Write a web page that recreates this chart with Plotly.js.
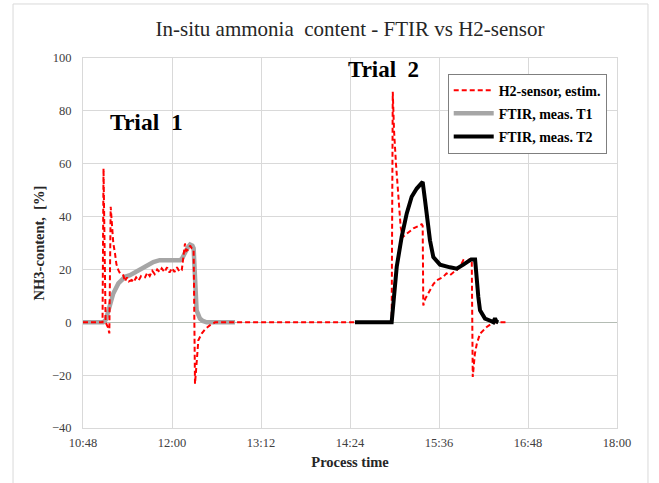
<!DOCTYPE html>
<html>
<head>
<meta charset="utf-8">
<script src="https://cdn.plot.ly/plotly-3.0.1.min.js"></script>
<style>
  html, body { margin: 0; padding: 0; background: #fff; }
  #chart { width: 659px; height: 483px; }
</style>
</head>
<body>
<div id="chart"></div>
<script>
var DAY = "2024-01-01 ";

// H2-sensor, estimated NH3 content [%]
var h2Time = ["10:48:00","11:03:48","11:04:36","11:05:36","11:06:18","11:08:18","11:09:18","11:10:24","11:11:30","11:12:30",
  "11:13:54","11:15:00","11:16:36","11:18:00","11:20:36","11:22:00","11:23:30","11:25:00","11:27:24","11:29:00",
  "11:31:00","11:33:00","11:35:00","11:38:12","11:40:00","11:42:00","11:44:00","11:46:00","11:48:00","11:50:00",
  "11:51:42","11:54:00","11:56:00","11:58:00","12:00:00","12:02:00","12:04:00","12:06:00","12:07:54","12:08:30",
  "12:10:30","12:11:30","12:13:00","12:14:36","12:16:00","12:17:30","12:18:00","12:18:36","12:19:30","12:21:18",
  "12:24:00","12:27:00","12:30:48","12:34:48","14:56:24","14:57:42","14:58:36","14:59:36","15:01:12","15:03:06",
  "15:05:00","15:06:42","15:09:54","15:15:18","15:22:00","15:22:48","15:23:18","15:25:00","15:28:42","15:31:30",
  "15:34:12","15:37:00","15:39:30","15:42:00","15:44:54","15:48:00","15:50:18","15:53:00","15:55:42","15:58:24",
  "16:00:30","16:02:30","16:03:18","16:05:00","16:06:36","16:09:12","16:14:36","16:20:00","16:30:48"];
var h2Value = [0,0,58.2,5,0,-2,-4.2,43.7,36,30,
  26,22,19.7,18.5,17.8,15.5,17,15.5,16,15.2,
  17,15.8,17.5,17,18.8,17.5,19.5,18.2,20,19,
  20.4,19,20.8,18.8,20.5,19,20.8,19.2,19.7,22,
  29.8,27,27.5,29,28,27.5,5,-23.3,-18,-6.8,
  -4.3,-2.5,-1.1,0,0,0,87.2,72.7,60,46.2,
  36,32.3,33.6,35.5,37.1,36.5,6.4,9,12.1,14.5,
  15.9,16.5,17.2,18.5,17.8,19,19.7,21,23.5,22.8,
  23.8,23.5,-20.7,-12,-8.1,-4.3,-1.8,0,0];

// FTIR, measured, Trial 1
var t1Time = ["10:48:00","11:04:24","11:06:30","11:07:12","11:09:48","11:12:30","11:16:36","11:22:00","11:26:00","11:30:00",
  "11:34:00","11:38:12","11:44:54","11:50:00","12:00:00","12:06:30","12:08:00","12:10:30","12:13:00","12:14:36",
  "12:16:30","12:17:30","12:18:36","12:19:54","12:22:36","12:25:00","12:28:00","12:51:00"];
var t1Value = [0,0,1,2,7,10.9,14.7,17.2,17.8,19,
  19.7,21,22.8,23.5,23.5,23.5,24,26.5,28.5,29.4,
  29,28,14.7,4.5,1.4,0.5,0,0];

// FTIR, measured, Trial 2
var t2Time = ["14:28:00","14:57:42","15:01:48","15:05:48","15:09:54","15:13:54","15:18:00","15:22:00","15:22:48","15:24:42",
  "15:26:36","15:28:42","15:31:24","15:36:48","15:44:54","15:50:18","15:55:42","16:02:00","16:05:12","16:06:00",
  "16:07:48","16:09:12","16:13:12","16:18:00","16:20:00","16:21:18","16:22:30","16:24:00"];
var t2Value = [0,0,21,32.3,41.2,47.5,50.6,52.5,53.1,46.2,
  38.6,31,24.7,21.8,20.8,20.3,21.8,23.8,23.8,18,
  9.6,4.5,1.4,0.5,0,1.5,0.3,0];

var seriesNames = ["H2-sensor, estim.", "FTIR, meas. T1", "FTIR, meas. T2"];
var xTickLabels = ["10:48","12:00","13:12","14:24","15:36","16:48","18:00"];
var yTickLabels = [-40,-20,0,20,40,60,80,100];

function toDate(arr) { return arr.map(function (s) { return DAY + s; }); }

var serif = "'Liberation Serif', 'Times New Roman', Times, serif";

var traceGray = { x: toDate(t1Time), y: t1Value, name: seriesNames[1], type: "scatter", mode: "lines",
    line: { color: "#a6a6a6", width: 4.5 }, legendgroup: "b", legendrank: 2 };
var traceRed = { x: toDate(h2Time), y: h2Value, name: seriesNames[0], type: "scatter", mode: "lines",
    line: { color: "#ff0000", width: 2, dash: "5px,3px" }, legendgroup: "a", legendrank: 1 };
var traceBlack = { x: toDate(t2Time), y: t2Value, name: seriesNames[2], type: "scatter", mode: "lines",
    line: { color: "#000000", width: 4 }, legendgroup: "c", legendrank: 3 };
var traces = [traceGray, traceRed, traceBlack];

var layout = {
  width: 659, height: 483,
  margin: { l: 83, r: 42, t: 58, b: 55 },
  paper_bgcolor: "#ffffff", plot_bgcolor: "#ffffff",
  font: { family: serif, size: 12.5, color: "#404040" },
  title: { text: "In-situ ammonia  content - FTIR vs H2-sensor", font: { family: serif, size: 21, color: "#262626" },
           x: 0.5, xref: "paper", y: 0.94, yref: "container", yanchor: "middle" },
  showlegend: true,
  legend: {
    x: 0.683, y: 0.958, xanchor: "left", yanchor: "top",
    bgcolor: "#ffffff", bordercolor: "#7f7f7f", borderwidth: 1,
    font: { family: serif, size: 14, color: "#000000", weight: "bold" },
    traceorder: "grouped", tracegroupgap: 2, itemwidth: 40
  },
  xaxis: {
    type: "date",
    range: [DAY + "10:48:00", DAY + "18:00:00"],
    tickvals: toDate(xTickLabels.map(function (s) { return s + ":00"; })),
    ticktext: xTickLabels,
    showgrid: true, gridcolor: "#d9d9d9", gridwidth: 1,
    showline: true, linecolor: "#d9d9d9", linewidth: 1, mirror: true,
    ticks: "", zeroline: false, ticklabelstandoff: 3,
    tickfont: { family: serif, size: 12.5, color: "#404040" },
    title: { text: "Process time", font: { family: serif, size: 14.5, color: "#262626", weight: "bold" }, standoff: 7 }
  },
  yaxis: {
    range: [-40, 100],
    tickvals: yTickLabels,
    showgrid: true, gridcolor: "#d9d9d9", gridwidth: 1,
    showline: true, linecolor: "#d9d9d9", linewidth: 1, mirror: true,
    zeroline: true, zerolinecolor: "#b4bcb4", zerolinewidth: 1,
    ticks: "", ticklabelstandoff: 8,
    tickfont: { family: serif, size: 12.5, color: "#404040" },
    title: { text: "NH3-content,  [%]", font: { family: serif, size: 14.5, color: "#262626", weight: "bold" }, standoff: 3 }
  },
  annotations: [
    { x: DAY + "11:39:00", y: 75.8, xref: "x", yref: "y", text: "Trial  1", showarrow: false,
      font: { family: serif, size: 23.5, color: "#000000", weight: "bold" } },
    { x: DAY + "14:51:30", y: 95.5, xref: "x", yref: "y", text: "Trial  2", showarrow: false,
      font: { family: serif, size: 23, color: "#000000", weight: "bold" } }
  ],
  shapes: [
    { type: "rect", xref: "paper", yref: "paper", x0: -0.131, x1: 1.058, y0: -0.2, y1: 1.146,
      line: { color: "#d9d9d9", width: 1 }, fillcolor: "rgba(0,0,0,0)", layer: "below" }
  ]
};

Plotly.newPlot("chart", traces, layout, { displayModeBar: false, staticPlot: true });
</script>
</body>
</html>
